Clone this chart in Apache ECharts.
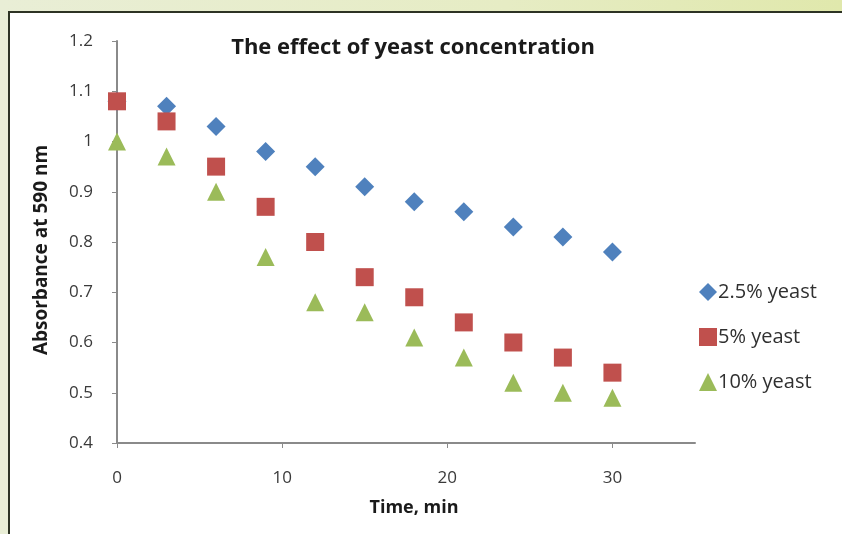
<!DOCTYPE html>
<html>
<head>
<meta charset="utf-8">
<script src="https://cdn.jsdelivr.net/npm/echarts@6/dist/echarts.min.js"></script>
<style>
  html, body { margin: 0; padding: 0; }
  body {
    width: 842px; height: 534px; position: relative; overflow: hidden;
    background: linear-gradient(90deg, #e9eed6 0%, #e6ecc4 60%, #e0e8ac 100%);
  }
  #panel {
    position: absolute; left: 8px; top: 11px; width: 840px; height: 530px;
    background: #ffffff; border-top: 2px solid #2d3324; border-left: 2px solid #2d3324;
  }
  #chart { position: absolute; left: 0; top: 0; width: 842px; height: 534px; }
</style>
</head>
<body>
<div id="panel"></div>
<div id="chart"></div>
<script>
// time points (min)
const times = [0, 3, 6, 9, 12, 15, 18, 21, 24, 27, 30];
// absorbance at 590 nm
const yeast25 = [1.08, 1.07, 1.03, 0.98, 0.95, 0.91, 0.88, 0.86, 0.83, 0.81, 0.78];
const yeast5 = [1.08, 1.04, 0.95, 0.87, 0.80, 0.73, 0.69, 0.64, 0.60, 0.57, 0.54];
const yeast10 = [1.00, 0.97, 0.90, 0.77, 0.68, 0.66, 0.61, 0.57, 0.52, 0.50, 0.49];
const seriesNames = ["2.5% yeast", "5% yeast", "10% yeast"];

const font = "'Open Sans', Lato, sans-serif";
const axisGrey = "#8a8a8a";
const labelColor = "#3a3a3a";

function pairs(vals) {
  return times.map((t, i) => [t, vals[i]]);
}

const chart = echarts.init(document.getElementById("chart"));
chart.setOption({
  backgroundColor: "transparent",
  animation: false,
  textStyle: { fontFamily: font },
  title: {
    text: "The effect of yeast concentration",
    left: 408,
    textAlign: "center",
    top: 32,
    textStyle: { fontFamily: font, fontWeight: "bold", fontSize: 22, color: "#1a1a1a" }
  },
  grid: { left: 117, top: 41, right: 147, bottom: 91 },
  legend: {
    orient: "vertical",
    left: 694,
    top: 277,
    itemGap: 25,
    itemWidth: 18,
    itemHeight: 18,
    textStyle: { fontFamily: font, fontSize: 20, color: "#303030", padding: [0, 0, 0, -4] },
    data: seriesNames
  },
  xAxis: {
    type: "value",
    min: 0,
    max: 35,
    interval: 10,
    name: "Time, min",
    nameLocation: "middle",
    nameGap: 56,
    nameTextStyle: { fontFamily: font, fontWeight: "bold", fontSize: 18, color: "#1a1a1a", padding: [0, 0, 0, 16] },
    axisLine: { lineStyle: { color: axisGrey, width: 2 } },
    axisTick: { show: true, length: 5, inside: false, lineStyle: { color: axisGrey } },
    splitLine: { show: false },
    axisLabel: {
      fontFamily: font, fontSize: 17, color: labelColor, margin: 27,
      showMaxLabel: false,
      formatter: v => (v % 10 === 0 ? String(v) : "")
    }
  },
  yAxis: {
    type: "value",
    min: 0.4,
    max: 1.2,
    interval: 0.1,
    name: "Absorbance at 590 nm",
    nameLocation: "middle",
    nameGap: 66,
    nameTextStyle: { fontFamily: font, fontWeight: "bold", fontSize: 19, color: "#1a1a1a", padding: [0, 16, 0, 0] },
    axisLine: { show: true, lineStyle: { color: axisGrey, width: 2 } },
    axisTick: { show: true, length: 5, lineStyle: { color: axisGrey } },
    splitLine: { show: false },
    axisLabel: {
      fontFamily: font, fontSize: 17, color: labelColor, margin: 24,
      formatter: v => String(Math.round(v * 10) / 10)
    }
  },
  series: [
    {
      name: seriesNames[0], type: "scatter", symbol: "diamond", symbolSize: 19,
      itemStyle: { color: "#4f81bd", opacity: 1 }, data: pairs(yeast25), z: 2
    },
    {
      name: seriesNames[1], type: "scatter", symbol: "rect", symbolSize: 18,
      itemStyle: { color: "#c0504d", opacity: 1 }, data: pairs(yeast5), z: 3
    },
    {
      name: seriesNames[2], type: "scatter", symbol: "triangle", symbolSize: 18,
      itemStyle: { color: "#9bbb59", opacity: 1 }, data: pairs(yeast10), z: 4
    }
  ]
});
</script>
</body>
</html>
